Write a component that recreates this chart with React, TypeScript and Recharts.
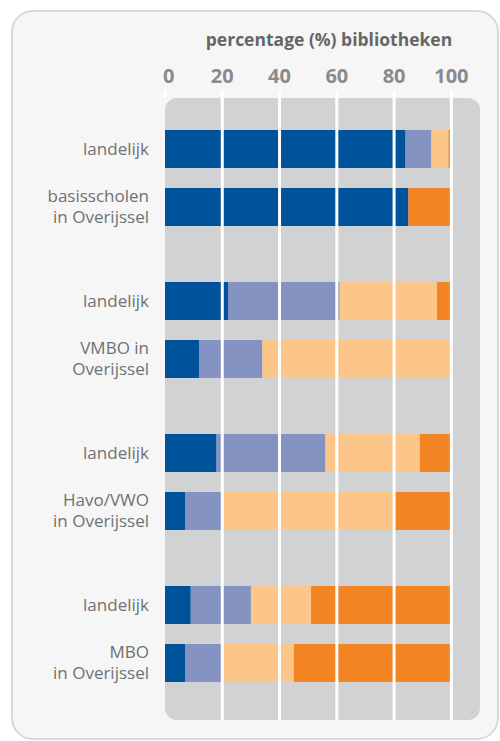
import { BarChart, Bar, XAxis, YAxis, ReferenceLine } from "recharts";

const title = "percentage (%) bibliotheken";
const categories = [
  "landelijk",
  "basisscholen\nin Overijssel",
  "landelijk",
  "VMBO in\nOverijssel",
  "landelijk",
  "Havo/VWO\nin Overijssel",
  "landelijk",
  "MBO\nin Overijssel",
];
const serie1 = [84, 85, 22, 12, 18, 7, 9, 7];
const serie2 = [9, 0, 39, 22, 38, 13, 21, 13];
const serie3 = [6, 0, 34, 66, 33, 60, 21, 25];
const serie4 = [1, 15, 5, 0, 11, 20, 49, 55];
const ticks = [0, 20, 40, 60, 80, 100];

const colors = ["#00539b", "#8593c2", "#fcc68a", "#f38423"];
const font = "'Open Sans', sans-serif";

const rows = categories.map((label, i) => ({
  label,
  s1: serie1[i],
  s2: serie2[i],
  s3: serie3[i],
  s4: serie4[i],
}));

function XTick({ x, y, payload }: any) {
  const first = payload.value === 0;
  return (
    <text
      x={first ? x - 2 : x}
      y={y}
      textAnchor={first ? "start" : "middle"}
      fill="#8a8a8a"
      fontSize={20}
      fontWeight="bold"
      fontFamily={font}
    >
      {payload.value}
    </text>
  );
}

function YTick({ x, y, payload }: any) {
  const lines = String(payload.value).split("\n");
  return (
    <text x={x} y={y} textAnchor="end" fill="#707070" fontSize={17} fontFamily={font}>
      {lines.map((l, k) => (
        <tspan key={k} x={x} y={y + (k - (lines.length - 1) / 2) * 21} dy="0.35em">
          {l}
        </tspan>
      ))}
    </text>
  );
}

type GroupProps = {
  data: typeof rows;
  top: number;
  height: number;
  padTop: number;
  padBottom: number;
  showAxis?: boolean;
};

function GroupChart({ data, top, height, padTop, padBottom, showAxis }: GroupProps) {
  return (
    <div style={{ position: "absolute", left: 0, top }}>
      <BarChart
        layout="vertical"
        width={500}
        height={height}
        data={data}
        margin={{ top: showAxis ? 68 : 0, right: 20, bottom: 0, left: 10 }}
      >
        <XAxis
          type="number"
          domain={[0, 110]}
          ticks={ticks}
          interval={0}
          orientation="top"
          hide={!showAxis}
          height={30}
          tickSize={8}
          tickMargin={7}
          axisLine={false}
          tickLine={{ stroke: "#ffffff", strokeWidth: 3 }}
          tick={<XTick />}
        />
        <YAxis
          type="category"
          dataKey="label"
          width={155}
          interval={0}
          axisLine={false}
          tickLine={false}
          tickSize={0}
          tickMargin={16}
          tick={<YTick />}
          padding={{ top: padTop, bottom: padBottom }}
        />
        <Bar dataKey="s1" stackId="a" fill={colors[0]} barSize={38} isAnimationActive={false} />
        <Bar dataKey="s2" stackId="a" fill={colors[1]} barSize={38} isAnimationActive={false} />
        <Bar dataKey="s3" stackId="a" fill={colors[2]} barSize={38} isAnimationActive={false} />
        <Bar dataKey="s4" stackId="a" fill={colors[3]} barSize={38} isAnimationActive={false} />
        {ticks
          .filter((t) => t > 0)
          .map((t) => (
            <ReferenceLine key={t} x={t} stroke="#ffffff" strokeWidth={3} />
          ))}
      </BarChart>
    </div>
  );
}

export default function App() {
  return (
    <div
      style={{
        position: "absolute",
        left: 0,
        top: 0,
        width: 500,
        height: 741,
        overflow: "hidden",
        background: "#ffffff",
        fontFamily: font,
      }}
    >
      <div
        style={{
          position: "absolute",
          left: 11,
          top: 10,
          width: 484,
          height: 726,
          border: "2px solid #d8d8d8",
          borderRadius: 22,
          background: "#f6f6f6",
        }}
      />
      <div
        style={{
          position: "absolute",
          left: 165,
          top: 98,
          width: 315,
          height: 622,
          borderRadius: 12,
          background: "#d1d2d4",
        }}
      />
      <div
        style={{
          position: "absolute",
          left: 179,
          top: 27,
          width: 300,
          textAlign: "center",
          fontSize: 17.5,
          fontWeight: "bold",
          color: "#666666",
        }}
      >
        {title}
      </div>
      <GroupChart data={rows.slice(0, 2)} top={0} height={254} padTop={22} padBottom={18} showAxis />
      <GroupChart data={rows.slice(2, 4)} top={254} height={152} padTop={18} padBottom={18} />
      <GroupChart data={rows.slice(4, 6)} top={406} height={152} padTop={18} padBottom={18} />
      <GroupChart data={rows.slice(6, 8)} top={558} height={162} padTop={18} padBottom={28} />
    </div>
  );
}
